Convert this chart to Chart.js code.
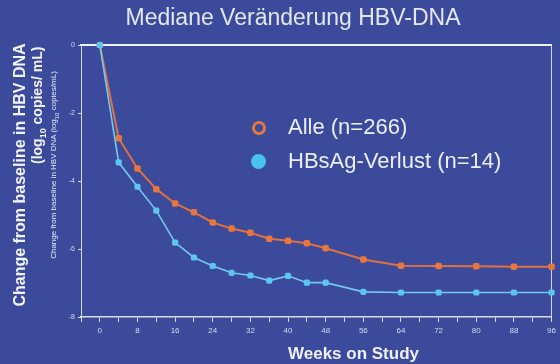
<!DOCTYPE html>
<html>
<head>
<meta charset="utf-8">
<script src="https://cdn.jsdelivr.net/npm/chart.js@4"></script>
<style>
  html, body { margin: 0; padding: 0; background: #3b4a9b; }
  #wrap { position: relative; width: 560px; height: 364px; overflow: hidden; font-family: "Liberation Sans", Arial, sans-serif; }
  #chart { position: absolute; left: 0; top: 0; }
  .txt { position: absolute; white-space: nowrap; color: #f2f4fa; }
  #title { left: 0; width: 586px; top: 4px; text-align: center; font-size: 23px; color: #e3e7f2; }
  .rot { transform-origin: 0 0; transform: rotate(-90deg); text-align: center; }
  #yt1 { left: 11px; top: 307px; width: 264px; font-size: 16px; font-weight: bold; line-height: 18px; }
  #yt2 { left: 29px; top: 164px; width: 112px; font-size: 14px; font-weight: bold; line-height: 16px; }
  #yt3 { left: 49px; top: 263px; width: 196px; font-size: 8px; line-height: 10px; color: #e6e9f3; }
  #xt { left: 288px; top: 344px; width: 130px; text-align: center; font-size: 17px; font-weight: bold; color: #eef0f8; }
  .leg { left: 288px; font-size: 22px; color: #eceff8; }
  .mk { position: absolute; border-radius: 50%; box-sizing: border-box; }
</style>
</head>
<body>
<div id="wrap">
  <canvas id="chart" width="560" height="364"></canvas>
  <div class="txt" id="title">Mediane Veränderung HBV-DNA</div>
  <div class="txt rot" id="yt1">Change from baseline in HBV DNA</div>
  <div class="txt rot" id="yt2">(log<sub style="font-size:9px">10</sub> copies/ mL)</div>
  <div class="txt rot" id="yt3">Change from baseline in HBV DNA (log<sub style="font-size:6px">10</sub> copies/mL)</div>
  <div class="txt" id="xt">Weeks on Study</div>
  <div class="mk" style="left:252px;top:121px;width:14px;height:14px;border:3.5px solid #e8773f;"></div>
  <div class="txt leg" style="top:114px;">Alle (n=266)</div>
  <div class="mk" style="left:251px;top:154px;width:15px;height:15px;background:#46c3ef;"></div>
  <div class="txt leg" style="top:148px;">HBsAg-Verlust (n=14)</div>
</div>
<script>
// data
const weeks = [0, 4, 8, 12, 16, 20, 24, 28, 32, 36, 40, 44, 48, 56, 64, 72, 80, 88, 96];
const alleValues = [0, -2.74, -3.63, -4.24, -4.66, -4.92, -5.22, -5.40, -5.52, -5.70, -5.76, -5.83, -5.98, -6.31, -6.49, -6.50, -6.51, -6.52, -6.52];
const lossValues = [0, -3.45, -4.17, -4.87, -5.81, -6.25, -6.50, -6.70, -6.78, -6.93, -6.79, -6.99, -6.99, -7.26, -7.28, -7.28, -7.28, -7.28, -7.28];
const xTickLabels = [0, 8, 16, 24, 32, 40, 48, 56, 64, 72, 80, 88, 96];
const yTickLabels = [0, -2, -4, -6, -8];

function toPoints(xs, ys) {
    return xs.map(function (x, i) { return { x: x, y: ys[i] }; });
}

const axisColor = 'rgba(235,238,248,0.9)';

new Chart(document.getElementById('chart'), {
    type: 'line',
    data: {
        datasets: [{
            label: 'HBsAg-Verlust (n=14)',
            data: toPoints(weeks, lossValues),
            borderColor: '#74c8ef',
            backgroundColor: '#5cc6f0',
            borderWidth: 1.6,
            pointStyle: 'rectRounded',
            pointRadius: 3.6,
            pointBorderWidth: 0,
            tension: 0,
            clip: false,
            order: 0
        }, {
            label: 'Alle (n=266)',
            data: toPoints(weeks, alleValues),
            borderColor: '#e0703f',
            backgroundColor: '#e7773f',
            borderWidth: 2,
            pointStyle: 'rectRounded',
            pointRadius: 3.8,
            pointBorderWidth: 0,
            tension: 0,
            clip: false,
            order: 1
        }]
    },
    options: {
        responsive: false,
        animation: false,
        layout: { autoPadding: false, padding: { left: 0, right: 7, top: 45, bottom: 0 } },
        plugins: { legend: { display: false }, title: { display: false }, tooltip: { enabled: false } },
        scales: {
            x: {
                type: 'linear',
                position: 'bottom',
                min: -4,
                max: 96,
                afterFit: function (s) { s.height = 47; },
                ticks: {
                    stepSize: 4,
                    autoSkip: false,
                    maxRotation: 0,
                    padding: 4,
                    color: '#d5dbec',
                    font: { family: 'Liberation Sans', size: 8 },
                    callback: function (v) { return xTickLabels.includes(v) ? String(v) : ''; }
                },
                grid: { display: true, drawOnChartArea: false, drawTicks: true, tickLength: 5, color: axisColor, lineWidth: 1 },
                border: { display: true, color: axisColor, width: 1.5 }
            },
            xTop: {
                type: 'linear',
                position: 'top',
                min: -4,
                max: 96,
                afterFit: function (s) { s.height = 0; },
                ticks: { display: false },
                grid: { display: true, drawOnChartArea: false, drawTicks: false },
                border: { display: true, color: '#f0f2fa', width: 2 }
            },
            y: {
                type: 'linear',
                position: 'left',
                min: -8,
                max: 0,
                afterFit: function (s) { s.width = 81; },
                afterBuildTicks: function (s) { s.ticks = yTickLabels.map(function (v) { return { value: v }; }); },
                ticks: {
                    padding: 3,
                    color: '#d5dbec',
                    font: { family: 'Liberation Sans', size: 7 },
                    callback: function (v) { return String(v); }
                },
                grid: { display: true, drawOnChartArea: false, drawTicks: true, tickLength: 3, color: axisColor },
                border: { display: true, color: axisColor, width: 1, dash: [1.5, 2.5] }
            },
            yRight: {
                type: 'linear',
                position: 'right',
                min: -8,
                max: 0,
                afterFit: function (s) { s.width = 0; },
                ticks: { display: false },
                grid: { display: true, drawOnChartArea: false, drawTicks: false },
                border: { display: true, color: 'rgba(235,238,248,0.85)', width: 1 }
            }
        }
    }
});
</script>
</body>
</html>
